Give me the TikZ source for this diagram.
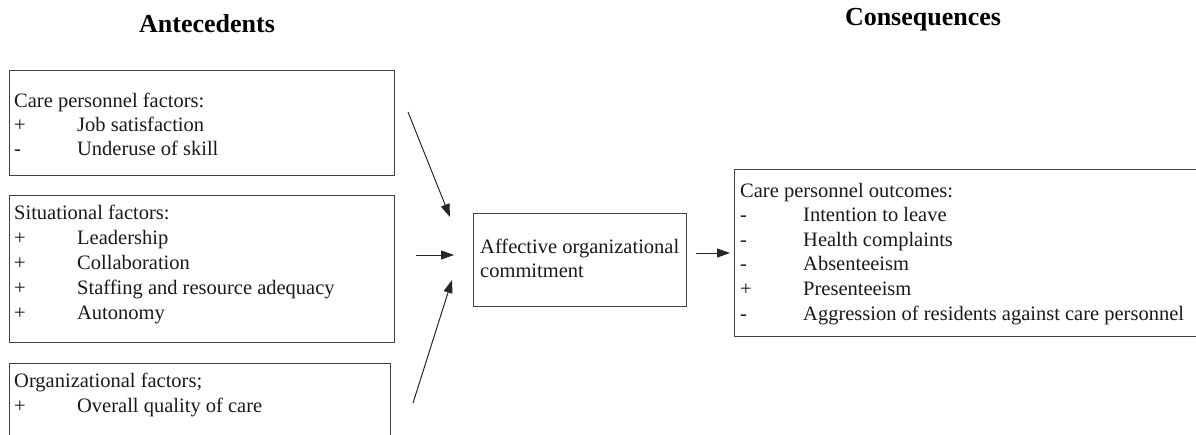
\documentclass[tikz,border=0pt]{standalone}
\usepackage{fontspec}
\setmainfont{Liberation Serif}
\usetikzlibrary{arrows.meta}
\newcommand{\rowitem}[2]{\hbox{\makebox[63pt][l]{#1}#2}}
\tikzset{
  box/.style={draw=black!75, line width=1.2pt, rectangle, inner sep=0pt, anchor=north west},
  txt/.style={inner sep=0pt, anchor=base west, text=black!90, font=\fontsize{20.5}{24.6}\selectfont},
  ttl/.style={inner sep=0pt, anchor=base, font=\fontsize{26}{30}\selectfont\bfseries},
  arr/.style={draw=black!85, line width=1pt, -{Triangle[length=13pt,width=9pt]}}
}
\begin{document}
\begin{tikzpicture}[x=1pt,y=-1pt]
\useasboundingbox (0,0) rectangle (1196,434);
\clip (0,0) rectangle (1196,434);
% titles
\node[ttl] (tA) at (207,32) {Antecedents};
\node[ttl] (tC) at (923,25) {Consequences};
% boxes
\node[box, minimum width=385pt, minimum height=105pt] (b1) at (9,70) {};
\node[box, minimum width=385pt, minimum height=147pt] (b2) at (9,195) {};
\node[box, minimum width=381pt, minimum height=100pt] (b3) at (9,363) {};
\node[box, minimum width=213pt, minimum height=93pt] (bc) at (473,213) {};
\node[box, minimum width=480pt, minimum height=167pt] (bo) at (734,169) {};
% texts
\node[txt] (t1) at (14,107) {\vtop{\fontsize{20.5}{24.2}\selectfont
  \hbox{Care personnel factors:}
  \rowitem{+}{Job satisfaction}
  \rowitem{-}{Underuse of skill}}};
\node[txt] (t2) at (14,219) {\vtop{\fontsize{20.5}{25}\selectfont
  \hbox{Situational factors:}
  \rowitem{+}{Leadership}
  \rowitem{+}{Collaboration}
  \rowitem{+}{Staffing and resource adequacy}
  \rowitem{+}{Autonomy}}};
\node[txt] (t3) at (14,387) {\vtop{\fontsize{20.5}{25}\selectfont
  \hbox{Organizational factors;}
  \rowitem{+}{Overall quality of care}}};
\node[txt] (tc) at (480,253) {\vtop{\fontsize{20.5}{24.5}\selectfont
  \hbox{Affective organizational}
  \hbox{commitment}}};
\node[txt] (to) at (740,197) {\vtop{\fontsize{20.5}{24.6}\selectfont
  \hbox{Care personnel outcomes:}
  \rowitem{-}{Intention to leave}
  \rowitem{-}{Health complaints}
  \rowitem{-}{Absenteeism}
  \rowitem{+}{Presenteeism}
  \rowitem{-}{Aggression of residents against care personnel}}};
% arrow ends
\coordinate (a1s) at (408,112);
\coordinate (a1e) at (450,217);
\coordinate (a2s) at (416,255);
\coordinate (a2e) at (454,255);
\coordinate (a3s) at (413,403);
\coordinate (a3e) at (452,280);
\coordinate (a4s) at (696,253);
\coordinate (a4e) at (730,253);
\draw[arr] (a1s) -- (a1e);
\draw[arr] (a2s) -- (a2e);
\draw[arr] (a3s) -- (a3e);
\draw[arr] (a4s) -- (a4e);
\end{tikzpicture}
\end{document}
